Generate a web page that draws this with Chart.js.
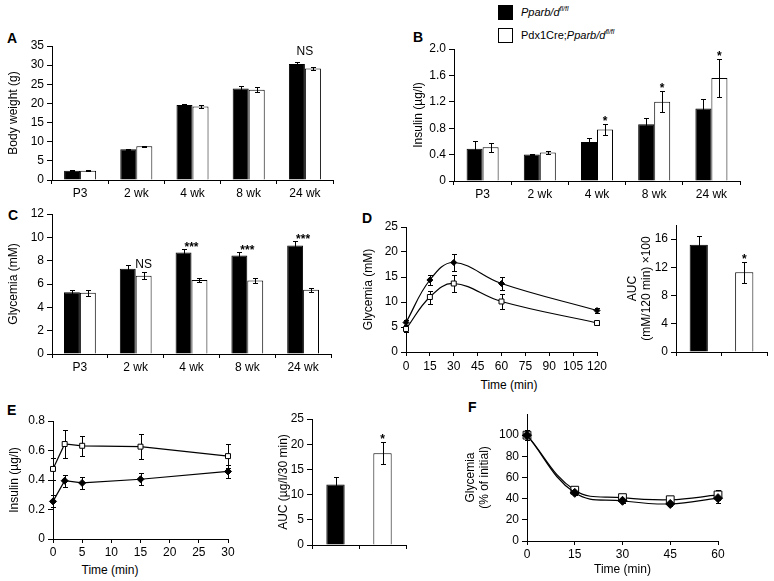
<!DOCTYPE html>
<html><head><meta charset="utf-8">
<script src="https://cdn.jsdelivr.net/npm/chart.js@4.4.1/dist/chart.umd.min.js"></script>
<style>
body{margin:0;background:#fff;width:774px;height:581px;position:relative;overflow:hidden;font-family:'Liberation Sans',Arial,Helvetica,sans-serif;color:#000}
canvas{position:absolute}
.lbl{position:absolute;font-weight:bold;font-size:14px;line-height:14px}
.txt{position:absolute;font-size:12px;line-height:14px;white-space:nowrap;transform:translate(-50%,-50%)}
.sq{position:absolute;width:15px;height:15px;box-sizing:border-box;border:1px solid #000}
.leg{position:absolute;font-size:11px;line-height:15px;white-space:nowrap}
.leg sup{font-size:7px;vertical-align:5px;line-height:0}
</style></head><body>
<div class="lbl" style="left:7px;top:31px">A</div>
<div class="lbl" style="left:413px;top:30px">B</div>
<div class="lbl" style="left:8px;top:208px">C</div>
<div class="lbl" style="left:362px;top:211px">D</div>
<div class="lbl" style="left:7px;top:403px">E</div>
<div class="lbl" style="left:468px;top:400px">F</div>
<div class="sq" style="left:498px;top:5px;background:#000"></div>
<div class="sq" style="left:498px;top:28px;background:#fff"></div>
<div class="leg" id="leg0" style="left:521px;top:5px"></div>
<div class="leg" id="leg1" style="left:521px;top:28px"></div>
<div class="txt" style="left:509px;top:385px">Time (min)</div>
<div class="txt" style="left:110px;top:570px">Time (min)</div>
<script>
// ---------- data ----------
const ageCategories = ['P3', '2 wk', '4 wk', '8 wk', '24 wk'];
const legendPrefix = ['', 'Pdx1Cre;'];
const legendGene = ['Pparb/d', 'Pparb/d'];
const legendSup = ['fl/fl', 'fl/fl'];

const bodyWeightCtrl = [2.4, 8.0, 19.6, 23.9, 30.3];
const bodyWeightCtrlErr = [0.15, 0.2, 0.3, 0.7, 0.6];
const bodyWeightKO = [2.4, 8.8, 19.2, 23.6, 29.1];
const bodyWeightKOErr = [0.1, 0.15, 0.3, 0.7, 0.4];
const bodyWeightSig = ['', '', '', '', 'NS'];

const insulinCtrl = [0.49, 0.40, 0.59, 0.86, 1.10];
const insulinCtrlErr = [0.12, 0.01, 0.06, 0.10, 0.15];
const insulinKO = [0.51, 0.43, 0.78, 1.20, 1.56];
const insulinKOErr = [0.07, 0.02, 0.08, 0.16, 0.29];
const insulinSig = ['', '', '*', '*', '*'];

const glycemiaCtrl = [5.3, 7.3, 8.7, 8.45, 9.3];
const glycemiaCtrlErr = [0.2, 0.3, 0.3, 0.3, 0.4];
const glycemiaKO = [5.25, 6.7, 6.35, 6.3, 5.5];
const glycemiaKOErr = [0.25, 0.3, 0.2, 0.25, 0.15];
const glycemiaSig = ['', 'NS', '***', '***', '***'];

const gttTimes = [0, 15, 30, 60, 120];
const gttCtrl = [5.9, 14.4, 17.9, 13.7, 8.3];
const gttCtrlErr = [0.5, 1.0, 1.7, 1.3, 0.5];
const gttKO = [4.6, 11.0, 13.7, 10.1, 5.8];
const gttKOErr = [0.5, 1.3, 1.7, 1.5, 0.3];

const aucGroups = ['Pparb/d fl/fl', 'Pdx1Cre;Pparb/d fl/fl'];
const gttAuc = [15.2, 11.3];
const gttAucErr = [1.2, 1.5];
const gttAucSig = ['', '*'];

const gsisTimes = [0, 2, 5, 15, 30];
const gsisCtrl = [0.255, 0.395, 0.38, 0.405, 0.458];
const gsisCtrlErr = [0.04, 0.04, 0.038, 0.04, 0.045];
const gsisKO = [0.475, 0.644, 0.632, 0.626, 0.562];
const gsisKOErr = [0.072, 0.095, 0.068, 0.083, 0.08];

const gsisAuc = [12.0, 18.2];
const gsisAucErr = [1.4, 2.2];
const gsisAucSig = ['', '*'];

const ittTimes = [0, 15, 30, 45, 60];
const ittCtrl = [100, 45.5, 38, 35, 40.5];
const ittCtrlErr = [5, 2, 2, 2, 4.5];
const ittKO = [100, 48, 41, 39, 43.5];
const ittKOErr = [5, 2, 2, 2, 5];

// ---------- legend ----------
for (let i = 0; i < 2; i++) {
  const el = document.getElementById('leg' + i);
  el.innerHTML = legendPrefix[i] + '<i>' + legendGene[i] + '<sup>' + legendSup[i] + '</sup></i>';
}

// ---------- setup ----------
const FS = 12;
Chart.defaults.font.family = "'Liberation Sans', Arial, Helvetica, sans-serif";
Chart.defaults.font.size = FS;
Chart.defaults.color = '#000';
Chart.defaults.animation = false;
Chart.defaults.events = [];
Chart.defaults.plugins.legend.display = false;
Chart.defaults.plugins.tooltip.enabled = false;

const valOf = (ds, i) => (typeof ds.data[i] === 'object' ? ds.data[i].y : ds.data[i]);

function drawErrors(chart, opts) {
  const ctx = chart.ctx, ys = chart.scales.y;
  chart.data.datasets.forEach((ds, di) => {
    if (!ds.errors) return;
    const meta = chart.getDatasetMeta(di);
    ctx.save();
    ctx.strokeStyle = '#000';
    ctx.lineWidth = 1;
    meta.data.forEach((el, i) => {
      const v = valOf(ds, i), e = ds.errors[i];
      const x = Math.round(el.x) + 0.5;
      const yT = Math.round(ys.getPixelForValue(v + e)) + 0.5;
      const yB = Math.round(ys.getPixelForValue(v - e)) + 0.5;
      const c = opts.cap || 2.5;
      ctx.beginPath();
      ctx.moveTo(x, yT); ctx.lineTo(x, yB);
      ctx.moveTo(x - c, yT); ctx.lineTo(x + c, yT);
      ctx.moveTo(x - c, yB); ctx.lineTo(x + c, yB);
      ctx.stroke();
    });
    ctx.restore();
  });
}
const errorBarPlugin = {
  id: 'errorBars',
  beforeDatasetsDraw(chart, args, opts) { if (opts.layer === 'under') drawErrors(chart, opts); },
  afterDatasetsDraw(chart, args, opts) { if (opts.layer !== 'under') drawErrors(chart, opts); }
};
const sigPlugin = {
  id: 'sig',
  afterDatasetsDraw(chart, args, opts) {
    if (!opts.labels) return;
    const ctx = chart.ctx, ys = chart.scales.y;
    opts.labels.forEach((txt, i) => {
      if (!txt) return;
      const mode = opts.anchors ? opts.anchors[i] : 'pair';
      let dsIdx = chart.data.datasets.map((d, k) => k);
      if (mode === 'ko' && chart.data.datasets.length > 1) dsIdx = [1];
      let xs = 0, top = Infinity;
      dsIdx.forEach(k => {
        const ds = chart.data.datasets[k];
        const el = chart.getDatasetMeta(k).data[i];
        xs += el.x;
        const e = ds.errors ? ds.errors[i] : 0;
        top = Math.min(top, ys.getPixelForValue(valOf(ds, i) + e));
      });
      const x = xs / dsIdx.length;
      ctx.save();
      ctx.fillStyle = '#000';
      ctx.textAlign = 'center';
      ctx.textBaseline = 'alphabetic';
      if (txt === 'NS') {
        ctx.font = "12px 'Liberation Sans', Arial, sans-serif";
        ctx.fillText(txt, x, top - (opts.nsGap || 6));
      } else {
        ctx.font = "bold 12px 'Liberation Sans', Arial, sans-serif";
        ctx.fillText(txt, x, top + (opts.starGap || 1));
      }
      ctx.restore();
    });
  }
};

function yAxis(min, max, step, maxTick, title, fmt) {
  return {
    min: min, max: max,
    ticks: { stepSize: step, includeBounds: false, padding: 3, color: '#000', callback: fmt },
    afterBuildTicks: s => { s.ticks = s.ticks.filter(t => t.value <= maxTick + 1e-9); },
    grid: { display: true, drawOnChartArea: false, drawTicks: true, tickLength: 5, color: '#000', lineWidth: 1 },
    border: { display: true, color: '#000', width: 1 },
    title: { display: true, text: title, color: '#000', padding: { top: 0, bottom: 0 }, font: { size: FS } }
  };
}
function catAxis(showLabels) {
  const ax = {
    type: 'category', offset: true,
    ticks: { padding: 2, autoSkip: false, maxRotation: 0, color: '#000' },
    grid: { display: true, drawOnChartArea: false, drawTicks: true, tickLength: 4, color: '#000', offset: true },
    border: { display: true, color: '#000', width: 1 }
  };
  if (!showLabels) ax.ticks.callback = () => '';
  return ax;
}
function linAxis(min, max, step, pad, title) {
  return {
    type: 'linear', min: min, max: max,
    ticks: { stepSize: step, padding: pad, autoSkip: false, maxRotation: 0, color: '#000' },
    grid: { display: true, drawOnChartArea: false, drawTicks: true, tickLength: 4, color: '#000' },
    border: { display: true, color: '#000', width: 1 },
    title: title ? { display: true, text: title, color: '#000', padding: { top: 0, bottom: 0 }, font: { size: FS } } : { display: false }
  };
}

function makeChart(geom, config) {
  const p = geom.plot;
  const left = Math.round(geom.titleX - FS * 0.6);
  const top = p.t - geom.padTop;
  const w = p.r + geom.padRight - left;
  const h = p.b + geom.xh - top;
  const cv = document.createElement('canvas');
  cv.width = w; cv.height = h;
  cv.style.left = left + 'px'; cv.style.top = top + 'px';
  cv.style.width = w + 'px'; cv.style.height = h + 'px';
  document.body.appendChild(cv);
  config.options.responsive = false;
  config.options.layout = { padding: { left: 0, top: geom.padTop, right: geom.padRight, bottom: 0 } };
  config.options.scales.y.afterFit = s => { s.width = p.l - left; };
  config.options.scales.x.afterFit = s => { s.height = geom.xh; };
  config.plugins = [errorBarPlugin, sigPlugin];
  return new Chart(cv, config);
}

const fmtInt = v => String(v);
const fmt1 = v => (v === 0 ? '0' : v.toFixed(1));
const fmtDec = v => (v === 0 ? '0' : String(Math.round(v * 10) / 10));

function barPair(ctrl, ctrlErr, ko, koErr, pct) {
  return [
    { data: ctrl, errors: ctrlErr, backgroundColor: '#000', borderColor: '#000', borderWidth: 1, categoryPercentage: pct, barPercentage: 1 },
    { data: ko, errors: koErr, backgroundColor: '#fff', borderColor: '#000', borderWidth: 1, categoryPercentage: pct, barPercentage: 1 }
  ];
}
function linePair(times, ctrl, ctrlErr, ko, koErr, tension, rC, rK) {
  return [
    { data: times.map((t, i) => ({ x: t, y: ctrl[i] })), errors: ctrlErr, borderColor: '#000', borderWidth: 1.2,
      pointStyle: 'rectRot', pointRadius: rC, pointBackgroundColor: '#000', pointBorderColor: '#000', pointBorderWidth: 1,
      tension: tension, clip: false, fill: false },
    { data: times.map((t, i) => ({ x: t, y: ko[i] })), errors: koErr, borderColor: '#000', borderWidth: 1.2,
      pointStyle: 'rect', pointRadius: rK, pointBackgroundColor: '#fff', pointBorderColor: '#000', pointBorderWidth: 1,
      tension: tension, clip: false, fill: false }
  ];
}

// A: body weight
makeChart({ plot: { l: 52, t: 46, r: 333, b: 180 }, titleX: 13, padTop: 20, padRight: 12, xh: 24 }, {
  type: 'bar',
  data: { labels: ageCategories, datasets: barPair(bodyWeightCtrl, bodyWeightCtrlErr, bodyWeightKO, bodyWeightKOErr, 0.57) },
  options: {
    scales: { x: catAxis(true), y: yAxis(0, 35, 5, 35, 'Body weight (g)', fmtInt) },
    plugins: { errorBars: { layer: 'over', cap: 2.5 }, sig: { labels: bodyWeightSig, anchors: ['', '', '', '', 'pair'], nsGap: 7 } }
  }
});

// B: insulin
makeChart({ plot: { l: 454, t: 49, r: 740, b: 181 }, titleX: 418, padTop: 12, padRight: 12, xh: 24 }, {
  type: 'bar',
  data: { labels: ageCategories, datasets: barPair(insulinCtrl, insulinCtrlErr, insulinKO, insulinKOErr, 0.56) },
  options: {
    scales: { x: catAxis(true), y: yAxis(0, 2.0, 0.4, 2.0, 'Insulin (\u00b5g/l)', fmt1) },
    plugins: { errorBars: { layer: 'over', cap: 2.5 }, sig: { labels: insulinSig, anchors: ['', '', 'ko', 'ko', 'ko'], starGap: 0 } }
  }
});

// C: glycemia
makeChart({ plot: { l: 52, t: 214, r: 331, b: 354 }, titleX: 13, padTop: 14, padRight: 12, xh: 24 }, {
  type: 'bar',
  data: { labels: ageCategories, datasets: barPair(glycemiaCtrl, glycemiaCtrlErr, glycemiaKO, glycemiaKOErr, 0.57) },
  options: {
    scales: { x: catAxis(true), y: yAxis(0, 12, 2, 12, 'Glycemia (mM)', fmtInt) },
    plugins: { errorBars: { layer: 'over', cap: 2.5 }, sig: { labels: glycemiaSig, anchors: ['', 'ko', 'pair', 'pair', 'pair'], nsGap: 4, starGap: 2 } }
  }
});

// D left: GTT
makeChart({ plot: { l: 406, t: 227, r: 597, b: 352 }, titleX: 368, padTop: 12, padRight: 14, xh: 24 }, {
  type: 'line',
  data: { datasets: linePair(gttTimes, gttCtrl, gttCtrlErr, gttKO, gttKOErr, 0.4, 3, 3.5) },
  options: {
    scales: { x: linAxis(0, 120, 15, 3, null), y: yAxis(0, 25, 5, 25, 'Glycemia (mM)', fmtInt) },
    plugins: { errorBars: { layer: 'under', cap: 2.5 } }
  }
});

// D right: GTT AUC
makeChart({ plot: { l: 676, t: 225, r: 767, b: 352 }, titleX: 632.5, padTop: 12, padRight: 5, xh: 14 }, {
  type: 'bar',
  data: { labels: aucGroups, datasets: [{ data: gttAuc, errors: gttAucErr, backgroundColor: ['#000', '#fff'], borderColor: '#000', borderWidth: 1, categoryPercentage: 0.4, barPercentage: 1 }] },
  options: {
    scales: { x: catAxis(false), y: yAxis(0, 18, 4, 16, ['AUC', '(mM/120 min) \u00d7100'], fmtInt) },
    plugins: { errorBars: { layer: 'over', cap: 2.5 }, sig: { labels: gttAucSig, anchors: ['', 'pair'], starGap: 0 } }
  }
});

// E left: insulin secretion
makeChart({ plot: { l: 53, t: 421, r: 228, b: 539 }, titleX: 14, padTop: 12, padRight: 12, xh: 24 }, {
  type: 'line',
  data: { datasets: linePair(gsisTimes, gsisCtrl, gsisCtrlErr, gsisKO, gsisKOErr, 0, 3.5, 3.5) },
  options: {
    scales: { x: linAxis(0, 30, 5, 2, null), y: yAxis(0, 0.8, 0.2, 0.8, 'Insulin (\u00b5g/l)', fmtDec) },
    plugins: { errorBars: { layer: 'under', cap: 2.5 } }
  }
});

// E right: insulin AUC
makeChart({ plot: { l: 312, t: 419, r: 406, b: 545 }, titleX: 283, padTop: 12, padRight: 5, xh: 14 }, {
  type: 'bar',
  data: { labels: aucGroups, datasets: [{ data: gsisAuc, errors: gsisAucErr, backgroundColor: ['#000', '#fff'], borderColor: '#000', borderWidth: 1, categoryPercentage: 0.39, barPercentage: 1 }] },
  options: {
    scales: { x: catAxis(false), y: yAxis(0, 25, 5, 25, 'AUC (\u00b5g/l/30 min)', fmtInt) },
    plugins: { errorBars: { layer: 'over', cap: 2.5 }, sig: { labels: gsisAucSig, anchors: ['', 'pair'], starGap: 0 } }
  }
});

// F: ITT
makeChart({ plot: { l: 527, t: 414, r: 718, b: 541 }, titleX: 470, padTop: 12, padRight: 14, xh: 36 }, {
  type: 'line',
  data: { datasets: linePair(ittTimes, ittCtrl, ittCtrlErr, ittKO, ittKOErr, 0.4, 4.5, 5.5) },
  options: {
    scales: { x: linAxis(0, 60, 15, 2, 'Time (min)'), y: yAxis(0, 120, 20, 100, ['Glycemia', '(% of initial)'], fmtInt) },
    plugins: { errorBars: { layer: 'under', cap: 2.5 } }
  }
});
</script>
</body></html>
